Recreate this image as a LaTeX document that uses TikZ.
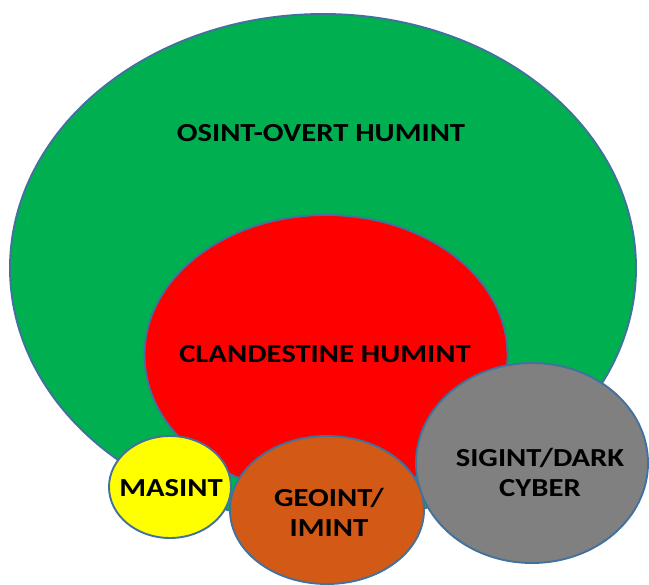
\documentclass[tikz,border=0pt]{standalone}
\usepackage{fontspec}
\setmainfont{Carlito}
\usetikzlibrary{shapes.geometric}
\definecolor{rim}{HTML}{41719C}
\definecolor{osint}{HTML}{00B050}
\definecolor{clan}{HTML}{FF0000}
\definecolor{masint}{HTML}{FFFF00}
\definecolor{geoint}{HTML}{D35A16}
\definecolor{sigint}{HTML}{808080}
% labels are set a little wider than the face's natural width
\newcommand{\wlabel}[1]{\scalebox{1.18}[1]{#1}}
\begin{document}
\begin{tikzpicture}[x=1pt,y=-1pt,
  lbl/.style={font=\bfseries\fontsize{26}{30}\selectfont, align=center, text=black},
  blob/.style={ellipse, draw=rim, line width=1.9pt, inner sep=0pt}]
\useasboundingbox (0,0) rectangle (649,585);
% outer field and the nested circles
\node[blob, fill=osint, minimum width=626pt, minimum height=508pt] (osint) at (323,268) {};
\node[lbl] (osintlabel) at (321,133) {\wlabel{OSINT-OVERT HUMINT}};
\node[blob, fill=clan, minimum width=363pt, minimum height=280pt] (clan) at (326,355) {};
\node[lbl] (clanlabel) at (325,354) {\wlabel{CLANDESTINE HUMINT}};
\node[blob, fill=masint, minimum width=122pt, minimum height=102pt] (masint) at (170,487) {};
\node[lbl] (maslabel) at (171,488) {\wlabel{MASINT}};
\node[blob, fill=sigint, minimum width=232pt, minimum height=200pt] (sigint) at (532,463) {};
\node[lbl] (siglabel) at (540,472) {\wlabel{SIGINT/DARK}\\\wlabel{CYBER}};
\node[blob, fill=geoint, minimum width=194pt, minimum height=148pt] (geoint) at (327,510) {};
\node[lbl] (geolabel) at (329,512) {\wlabel{GEOINT/}\\\wlabel{IMINT}};
\end{tikzpicture}
\end{document}
